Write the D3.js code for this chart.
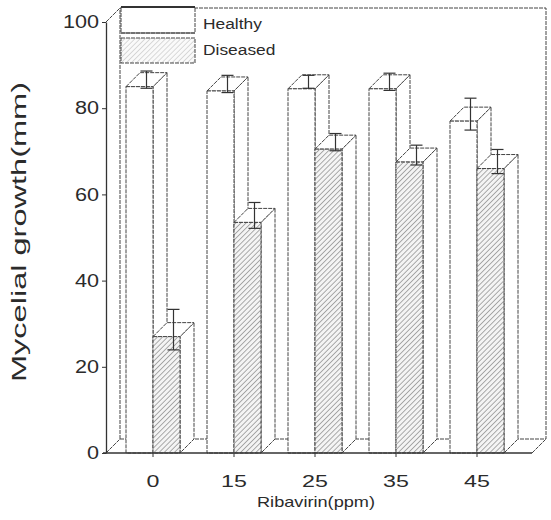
<!DOCTYPE html>
<meta charset="utf-8">
<head>
  <title>Mycelial growth</title>
</head>
<style>
  body { margin: 0; background: #fff; }
  .lbl { font-family: "Liberation Sans", Arial, sans-serif; fill: #2b2b2b; }
  .edge { stroke: #444; stroke-width: 1; stroke-dasharray: 4 1; }
</style>
<body>
<svg id="chart"></svg>
<script src="https://cdnjs.cloudflare.com/ajax/libs/d3/7.8.5/d3.min.js"></script>
<script>
// values (mm)
var categories = ["0", "15", "25", "35", "45"];
var series = ["Healthy", "Diseased"];
var healthy = [85, 84, 84.5, 84.5, 77];
var diseased = [27, 53.5, 70.5, 67.5, 66];
var healthyErr = [2, 2, 1.5, 2, 3.7];
var diseasedErr = [4.7, 3, 2, 2.3, 2.8];
var yTicks = [0, 20, 40, 60, 80, 100];

var W = 551, H = 520;
var pLeft = 106, pRight = 532, pTop = 22, pBottom = 453, depth = 14;

var svg = d3.select("#chart").attr("width", W).attr("height", H);

var defs = svg.append("defs");
var pat = defs.append("pattern")
  .attr("id", "hatch")
  .attr("patternUnits", "userSpaceOnUse")
  .attr("width", 3.6).attr("height", 3.6)
  .attr("patternTransform", "rotate(45)");
pat.append("rect").attr("width", 3.6).attr("height", 3.6).attr("fill", "#f4f4f4");
pat.append("line")
  .attr("x1", 0).attr("y1", 0).attr("x2", 0).attr("y2", 3.6)
  .attr("stroke", "#6e6e6e").attr("stroke-width", 1.1);

var y = d3.scaleLinear().domain([0, 100]).range([pBottom, pTop]);
var x0 = d3.scaleBand().domain(categories).range([pLeft + 20, pRight - 28]).paddingInner(1 / 3);
var x1 = d3.scaleBand().domain(series).range([0, x0.bandwidth()]);

var values = { Healthy: healthy, Diseased: diseased };
var errors = { Healthy: healthyErr, Diseased: diseasedErr };

// back wall + floor
var g = svg.append("g");
g.append("path")
  .attr("class", "edge")
  .attr("fill", "none")
  .attr("d", "M" + (pLeft + depth) + "," + (pBottom - depth) +
    "V" + (pTop - depth) + "H" + (pRight + depth) + "V" + (pBottom - depth) +
    "H" + (pLeft + depth));
g.append("line").attr("class", "edge")
  .attr("x1", pLeft).attr("y1", pTop).attr("x2", pLeft + depth).attr("y2", pTop - depth);
g.append("line").attr("class", "edge")
  .attr("x1", pLeft).attr("y1", pBottom).attr("x2", pLeft + depth).attr("y2", pBottom - depth);
g.append("line").attr("class", "edge")
  .attr("x1", pRight).attr("y1", pBottom).attr("x2", pRight + depth).attr("y2", pBottom - depth);

// bars
var bars = [];
categories.forEach(function(c, i) {
  series.forEach(function(s) {
    bars.push({ cat: c, s: s, v: values[s][i], e: errors[s][i] });
  });
});

var bw = x1.bandwidth();
var bar = g.selectAll("g.bar").data(bars).enter().append("g").attr("class", "bar");

bar.append("path")
  .attr("class", "edge").attr("fill", "#fff")
  .attr("d", function(d) {
    var x = x0(d.cat) + x1(d.s) + bw, yv = y(d.v);
    return "M" + x + "," + yv + "L" + (x + depth) + "," + (yv - depth) +
      "V" + (pBottom - depth) + "L" + x + "," + pBottom + "Z";
  });
bar.append("path")
  .attr("class", "edge").attr("fill", "#fff")
  .attr("d", function(d) {
    var x = x0(d.cat) + x1(d.s), yv = y(d.v);
    return "M" + x + "," + yv + "L" + (x + depth) + "," + (yv - depth) +
      "H" + (x + bw + depth) + "L" + (x + bw) + "," + yv + "Z";
  });
bar.append("rect")
  .attr("class", "edge")
  .attr("x", function(d) { return x0(d.cat) + x1(d.s); })
  .attr("y", function(d) { return y(d.v); })
  .attr("width", bw)
  .attr("height", function(d) { return pBottom - y(d.v); })
  .attr("fill", function(d) { return d.s == "Diseased" ? "url(#hatch)" : "#fff"; });

// error bars at mid depth
var eb = g.selectAll("g.err").data(bars).enter().append("g").attr("class", "err")
  .attr("stroke", "#333").attr("stroke-width", 1.2);
function ex(d) { return x0(d.cat) + x1(d.s) + bw / 2 + depth / 2; }
eb.append("line")
  .attr("x1", ex).attr("x2", ex)
  .attr("y1", function(d) { return y(d.v + d.e) - depth / 2; })
  .attr("y2", function(d) { return y(d.v - d.e) - depth / 2; });
[1, -1].forEach(function(k) {
  eb.append("line")
    .attr("x1", function(d) { return ex(d) - 6; })
    .attr("x2", function(d) { return ex(d) + 6; })
    .attr("y1", function(d) { return y(d.v + k * d.e) - depth / 2; })
    .attr("y2", function(d) { return y(d.v + k * d.e) - depth / 2; });
});

// floor front line
g.append("line")
  .attr("x1", pLeft - 3).attr("x2", pRight).attr("y1", pBottom).attr("y2", pBottom)
  .attr("stroke", "#333").attr("stroke-width", 1.3);

function stretch(sel, k) {
  sel.each(function() {
    var t = d3.select(this);
    t.attr("textLength", this.getComputedTextLength() * k).attr("lengthAdjust", "spacingAndGlyphs");
  });
}

// y axis
var ya = svg.append("g")
  .attr("transform", "translate(" + pLeft + ",0)")
  .call(d3.axisLeft(y).tickValues(yTicks).tickSize(4).tickSizeOuter(0).tickPadding(3));
ya.select(".domain").attr("stroke", "#333").attr("stroke-width", 1.3);
ya.selectAll(".tick line").attr("stroke", "#333");
ya.selectAll("text").attr("class", "lbl").style("font-size", "18px").attr("fill", "#2b2b2b");
stretch(ya.selectAll("text"), 1.2);

// x axis
var xa = svg.append("g")
  .attr("transform", "translate(0," + pBottom + ")")
  .call(d3.axisBottom(x0).tickSize(4).tickSizeOuter(0));
xa.select(".domain").remove();
xa.selectAll(".tick line").attr("stroke", "#333");
xa.selectAll("text").attr("class", "lbl").attr("y", 34).attr("dy", 0)
  .style("font-size", "16px").attr("fill", "#2b2b2b");
stretch(xa.selectAll("text"), 1.45);

// titles
var yt = svg.append("text").attr("class", "lbl")
  .attr("transform", "translate(26,232) rotate(-90)")
  .attr("text-anchor", "middle")
  .style("font-size", "20px")
  .text("Mycelial growth(mm)");
yt.attr("textLength", 300).attr("lengthAdjust", "spacingAndGlyphs");

var xt = svg.append("text").attr("class", "lbl")
  .attr("x", 316).attr("y", 507)
  .attr("text-anchor", "middle")
  .style("font-size", "15px")
  .text("Ribavirin(ppm)");
xt.attr("textLength", 118).attr("lengthAdjust", "spacingAndGlyphs");

// legend
var lg = svg.append("g");
lg.append("rect").attr("class", "edge")
  .attr("x", 121).attr("y", 7).attr("width", 74).attr("height", 26).attr("fill", "#fff");
lg.append("line").attr("x1", 121).attr("x2", 195).attr("y1", 7).attr("y2", 7)
  .attr("stroke", "#333").attr("stroke-width", 2);
lg.append("line").attr("x1", 121).attr("x2", 195).attr("y1", 33).attr("y2", 33)
  .attr("stroke", "#444").attr("stroke-width", 1.2);
lg.append("rect").attr("class", "edge")
  .attr("x", 121).attr("y", 38).attr("width", 74).attr("height", 25).attr("fill", "url(#hatch)")
  .attr("fill-opacity", 0.45);
lg.selectAll("text.leg").data(series).enter().append("text")
  .attr("class", "lbl leg")
  .attr("x", 203)
  .attr("y", function(d, i) { return 29 + i * 26; })
  .style("font-size", "14px")
  .text(function(d) { return d; })
  .each(function() {
    d3.select(this).attr("textLength", this.getComputedTextLength() * 1.24)
      .attr("lengthAdjust", "spacingAndGlyphs");
  });
</script>
</body>
</html>
